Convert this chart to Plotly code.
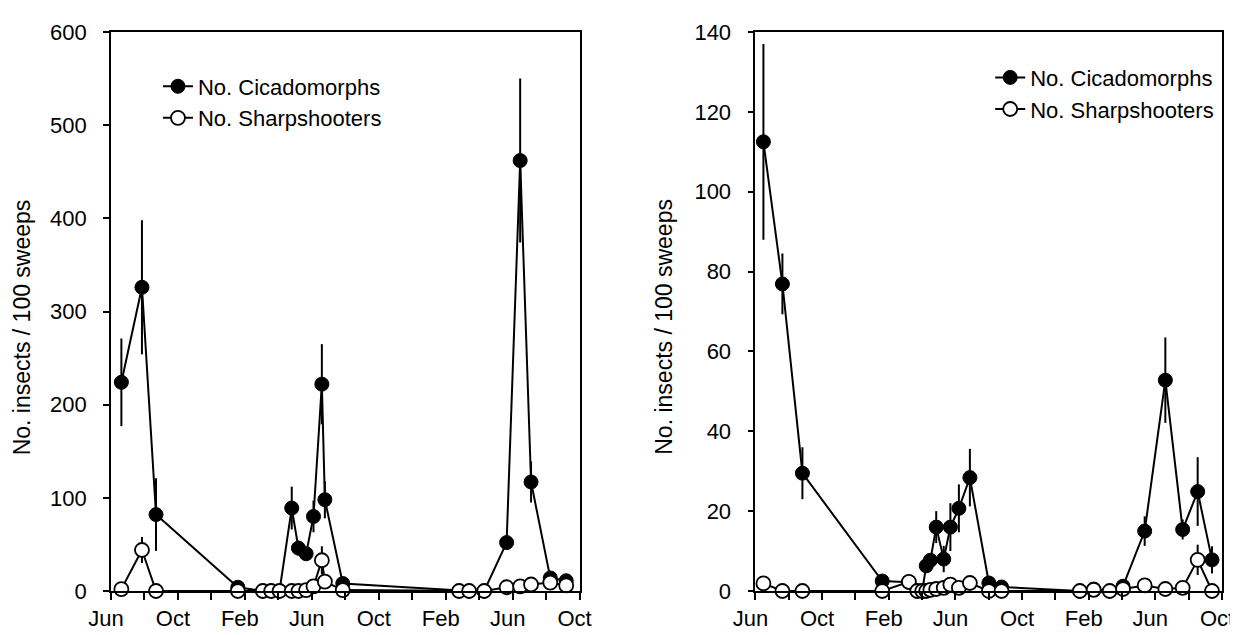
import plotly.graph_objects as go

# ---------------- data (x = months since first June) ----------------
month_ticks = [0, 4, 8, 12, 16, 20, 24, 28]
month_labels = ["Jun", "Oct", "Feb", "Jun", "Oct", "Feb", "Jun", "Oct"]

left_month = [0.62, 1.85, 2.69, 7.58, 9.07, 9.57, 10.07, 10.8, 11.2, 11.66, 12.1,
              12.6, 12.78, 13.85, 20.8, 21.4, 22.3, 23.64, 24.45, 25.1, 26.25, 27.2]
left_cicado = [224, 326, 82, 4, 0, 0, 0, 89, 46, 40, 80,
               222, 98, 8, 0, 0, 0, 52, 462, 117, 14, 11]
left_cicado_err = [47, 72, 39, 2, 0, 0, 0, 23, 8, 6, 17,
                   43, 20, 4, 0, 0, 0, 3, 88, 22, 4, 3]
left_sharp = [2, 44, 0, 0, 0, 0, 0, 0, 0, 1, 5,
              33, 10, 1, 0, 0, 0, 4, 5, 7, 9, 6]
left_sharp_err = [1, 14, 0, 0, 0, 0, 0, 0, 0, 0, 2,
                  15, 5, 0, 0, 0, 0, 1, 2, 2, 4, 2]

right_month = [0.48, 1.62, 2.82, 7.61, 9.21, 9.71, 10.01, 10.25, 10.5, 10.85, 11.3,
               11.7, 12.21, 12.87, 14.01, 14.77, 19.47, 20.3, 21.26, 22.06, 23.36,
               24.6, 25.64, 26.54, 27.4]
right_cicado = [112.5, 76.9, 29.5, 2.5, 2.2, 0, 0, 6.3, 7.7, 16, 8,
                16, 20.7, 28.4, 2, 1, 0, 0.5, 0, 1.2, 15,
                52.8, 15.4, 24.9, 7.8]
right_cicado_err = [24.5, 7.6, 6.5, 0.5, 0, 0, 0, 1, 1.5, 4, 3.3,
                    6, 6, 7.2, 0.5, 0.3, 0, 0, 0, 0.3, 3.7,
                    10.7, 2.5, 8.6, 3.4]
right_sharp = [1.9, 0, 0, 0, 2.3, 0, 0, 0, 0.3, 0.5, 0.8,
               1.6, 0.8, 2.0, 0, 0, 0, 0.3, 0, 0.5, 1.4,
               0.5, 0.8, 7.8, 0]
right_sharp_err = [0, 0, 0, 0, 0, 0, 0, 0, 0, 0, 0,
                   0, 0, 0, 0, 0, 0, 0, 0, 0, 0,
                   0, 0, 3.8, 0]

left_yticks = [0, 100, 200, 300, 400, 500, 600]
right_yticks = [0, 20, 40, 60, 80, 100, 120, 140]

name_cicado = "No. Cicadomorphs"
name_sharp = "No. Sharpshooters"
y_title = "No. insects / 100 sweeps"

# ---------------- figure ----------------
FONT = "Liberation Sans, Arial, Helvetica, sans-serif"
W, H = 1238, 635
ML, MR, MT, MB = 103, 23, 22, 45
PW, PH = W - ML - MR, H - MT - MB


def px_x(p):
    return (p - ML) / PW


def px_y(p):
    return (H - MB - p) / PH


fig = go.Figure()


def add_pair(xs, c, ce, s, se, xa, ya, leg):
    fig.add_trace(go.Scatter(
        x=xs, y=c, name=name_cicado, mode="lines+markers",
        line=dict(color="black", width=2),
        marker=dict(symbol="circle", size=14, color="black",
                    line=dict(color="black", width=1)),
        error_y=dict(type="data", array=ce, visible=True, width=0,
                     thickness=2, color="black"),
        cliponaxis=False, xaxis=xa, yaxis=ya, legend=leg))
    fig.add_trace(go.Scatter(
        x=xs, y=s, name=name_sharp, mode="lines+markers",
        line=dict(color="black", width=2),
        marker=dict(symbol="circle", size=14, color="white",
                    line=dict(color="black", width=1.8)),
        error_y=dict(type="data", array=se, visible=True, width=0,
                     thickness=2, color="black"),
        cliponaxis=False, xaxis=xa, yaxis=ya, legend=leg))


add_pair(left_month, left_cicado, left_cicado_err, left_sharp, left_sharp_err,
         "x", "y", "legend")
add_pair(right_month, right_cicado, right_cicado_err, right_sharp, right_sharp_err,
         "x2", "y2", "legend2")

axis_common = dict(
    showline=True, linecolor="black", linewidth=1.8, mirror=True,
    showgrid=False, zeroline=False, ticks="outside", tickcolor="black",
    tickwidth=1.5, tickfont=dict(family=FONT, size=22, color="black"),
)
xaxis_common = dict(
    axis_common, range=[0, 28], tickmode="array", tickvals=month_ticks,
    ticktext=month_labels, ticklen=7, ticklabelshift=-5,
    minor=dict(tickmode="linear", tick0=0, dtick=2, ticks="outside",
               ticklen=7, tickwidth=1.5, tickcolor="black", showgrid=False),
)
yaxis_common = dict(axis_common, domain=[0, 1], tickmode="array", ticklen=6,
                    ticklabelstandoff=12)

fig.update_layout(
    width=W, height=H,
    margin=dict(l=ML, r=MR, t=MT, b=MB),
    paper_bgcolor="white", plot_bgcolor="white",
    font=dict(family=FONT, size=22, color="black"),
    xaxis=dict(xaxis_common, domain=[0, px_x(572)], anchor="y"),
    yaxis=dict(yaxis_common, range=[0, 600], tickvals=left_yticks, anchor="x"),
    xaxis2=dict(xaxis_common, domain=[px_x(748), 1], anchor="y2"),
    yaxis2=dict(yaxis_common, range=[0, 140], tickvals=right_yticks, anchor="x2"),
    legend=dict(x=px_x(150), y=px_y(56), xanchor="left", yanchor="top",
                bgcolor="rgba(0,0,0,0)", font=dict(family=FONT, size=22),
                tracegroupgap=0, itemwidth=30),
    legend2=dict(x=px_x(983), y=px_y(47), xanchor="left", yanchor="top",
                 bgcolor="rgba(0,0,0,0)", font=dict(family=FONT, size=22),
                 tracegroupgap=0, itemwidth=30),
    annotations=[
        dict(text=y_title, x=px_x(14), y=px_y(322), xref="paper", yref="paper",
             xanchor="center", yanchor="middle",
             textangle=-90, showarrow=False, font=dict(family=FONT, size=23)),
        dict(text=y_title, x=px_x(657), y=px_y(322), xref="paper", yref="paper",
             xanchor="center", yanchor="middle",
             textangle=-90, showarrow=False, font=dict(family=FONT, size=23)),
    ],
    showlegend=True,
)

fig.write_html("out.html")
